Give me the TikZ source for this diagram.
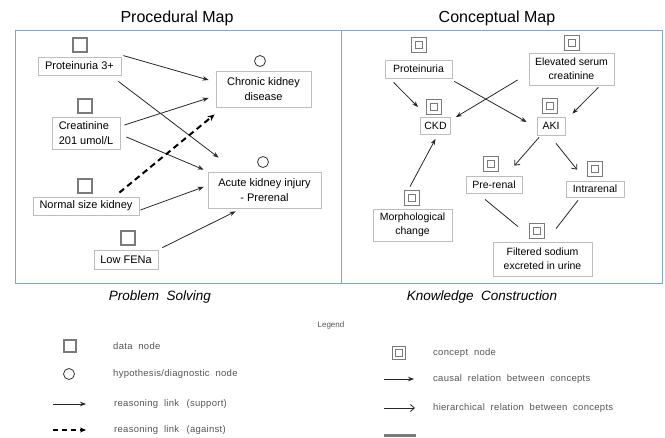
\documentclass[tikz,border=0pt]{standalone}
\usepackage{fontspec}
\setmainfont{Liberation Sans}
\newfontfamily\legfont{Liberation Sans}[LetterSpace=3.0,WordSpace=2.0]
\usetikzlibrary{arrows.meta,calc}
\newcommand{\fsz}[2]{\fontsize{#1}{#2}\selectfont}
\definecolor{panelblue}{HTML}{7FA6D8}
\definecolor{boxgray}{HTML}{BDBDBD}
\definecolor{symgray}{HTML}{7A7A7A}
\definecolor{leggray}{HTML}{555555}
\tikzset{
  panel/.style={draw=panelblue, line width=0.9pt},
  tbox/.style={draw=boxgray, line width=0.8pt, fill=white, inner sep=0pt, align=center, font=\fsz{11}{15}},
  rbox/.style={tbox, font=\fsz{10.5}{14}},
  dsym/.style={draw=symgray, line width=1.3pt, minimum size=14pt, inner sep=0pt},
  hsym/.style={draw=black!80, line width=0.8pt, circle, minimum size=11pt, inner sep=0pt},
  csym/.style={draw=symgray, line width=1.1pt, minimum size=15pt, inner sep=0pt,
    path picture={\draw[symgray, line width=1.1pt] ($(path picture bounding box.center)+(-3.8,-3.8)$) rectangle ($(path picture bounding box.center)+(3.8,3.8)$);}},
  sup/.style={draw=black!85, line width=0.8pt, -{Stealth[length=6pt,width=4.5pt]}},
  agn/.style={draw=black, line width=2pt, dash pattern=on 6pt off 4pt, -{Stealth[length=7pt,width=6pt]}},
  hier/.style={draw=black!85, line width=0.8pt, -{Straight Barb[length=4pt,width=7pt]}},
  plain/.style={draw=black!85, line width=0.8pt},
  title/.style={font=\fsz{16}{19}},
  subt/.style={font=\fsz{13.5}{16}\itshape},
  legtxt/.style={anchor=west, text=leggray, font=\fsz{9.5}{11}\legfont, inner sep=0pt},
}
\begin{document}
\begin{tikzpicture}[x=1pt,y=-1pt]
\useasboundingbox (0,0) rectangle (665,438);
% panels
\draw[panel] (15,30) rectangle (341,283);
\draw[panel] (341,30) rectangle (662,283);
\node[title] (t1) at (177,18) {Procedural Map};
\node[title] (t2) at (497,18) {Conceptual Map};
\node[subt] (s1) at (160,297) {Problem\ \ Solving};
\node[subt] (s2) at (482,297) {Knowledge\ \ Construction};

% ---- left map
\node[tbox, minimum width=83pt, minimum height=18pt] (p3) at (79.5,66) {Proteinuria 3+};
\node[tbox, minimum width=68pt, minimum height=32pt, align=left] (cr) at (86,133) {Creatinine\\201 umol/L};
\node[tbox, minimum width=106pt, minimum height=18pt] (nsk) at (86,206) {Normal size kidney};
\node[tbox, minimum width=64pt, minimum height=19pt] (fena) at (126,259.5) {Low FENa};
\node[tbox, minimum width=95pt, minimum height=36pt] (ckdL) at (263.5,89) {Chronic kidney\\disease};
\node[tbox, minimum width=113pt, minimum height=36pt] (akiL) at (264.5,190) {Acute kidney injury\\- Prerenal};
\node[dsym] (dp3) at (80,45) {};
\node[dsym] (dcr) at (85,106) {};
\node[dsym] (dnsk) at (85,186) {};
\node[dsym] (dfena) at (128,238) {};
\node[hsym] (hckd) at (260,61) {};
\node[hsym] (haki) at (263,162) {};

\draw[sup] ($(p3.north east)+(2,-1)$) -- ($(ckdL.west)+(-7,-9)$);
\draw[sup] ($(p3.south east)+(-3,6)$) -- ($(akiL.north west)+(11,-14)$);
\draw[sup] ($(cr.east)+(4,-8)$) -- ($(ckdL.west)+(-7,9)$);
\draw[sup] ($(cr.east)+(6,4)$) -- ($(akiL.north west)+(-4,-2)$);
\draw[agn] ($(nsk.north east)+(-20,-4)$) -- ($(ckdL.south west)+(-1,7)$);
\draw[sup] ($(nsk.east)+(1,4)$) -- ($(akiL.west)+(-4,-3)$);
\draw[sup] ($(fena.north east)+(4,-2)$) -- ($(akiL.south west)+(28,3)$);

% ---- right map
\node[rbox, minimum width=67pt, minimum height=18pt] (prot) at (418.5,69) {Proteinuria};
\node[rbox, minimum width=85pt, minimum height=32pt] (esc) at (571.5,69) {Elevated serum\\creatinine};
\node[rbox, minimum width=30pt, minimum height=17pt] (ckd) at (435.5,126) {CKD};
\node[rbox, minimum width=28pt, minimum height=18pt] (aki) at (551,126) {AKI};
\node[rbox, minimum width=56pt, minimum height=17pt] (pre) at (494,184.5) {Pre-renal};
\node[rbox, minimum width=58pt, minimum height=16pt] (intra) at (595,189) {Intrarenal};
\node[rbox, minimum width=79pt, minimum height=32pt] (morph) at (412.5,225) {Morphological\\change};
\node[rbox, minimum width=99pt, minimum height=34pt] (filt) at (542.5,259) {Filtered sodium\\excreted in urine};
\node[csym] (cprot) at (419,45) {};
\node[csym] (cesc) at (572,43) {};
\node[csym] (cckd) at (434,107) {};
\node[csym] (caki) at (550,106) {};
\node[csym] (cpre) at (491,164) {};
\node[csym] (cintra) at (595,169) {};
\node[csym] (cmorph) at (412,198) {};
\node[csym] (cfilt) at (537,231) {};

\draw[sup] ($(prot.south west)+(9,4)$) -- ($(ckd.north west)+(-2,-10)$);
\draw[sup] ($(prot.south east)+(2,3)$) -- ($(aki.west)+(-10,-4)$);
\draw[sup] ($(esc.west)+(-11,11)$) -- ($(ckd.north east)+(5,0)$);
\draw[sup] ($(esc.south east)+(-16,2)$) -- ($(aki.north east)+(7,-3)$);
\draw[sup] ($(morph.north)+(-2.5,-22)$) -- ($(ckd.south)+(0,4)$);
\draw[hier] ($(aki.south)+(-12,2)$) -- ($(pre.north east)+(-8,-10)$);
\draw[hier] ($(aki.south)+(5,8)$) -- ($(intra.north)+(-18,-11)$);
\draw[plain] ($(pre.south)+(-9,6)$) -- ($(filt.north)+(-24.5,-15)$);
\draw[plain] ($(intra.south)+(-17,3)$) -- ($(filt.north)+(13.5,-13)$);

% ---- legend
\node[text=leggray, font=\fsz{8}{10}, inner sep=0pt] (leg) at (331,325) {Legend};
\node[dsym, minimum size=12pt] (ld) at (70,346) {};
\node[legtxt] (ldt) at (113,346) {data node};
\node[hsym] (lh) at (69,374) {};
\node[legtxt] (lht) at (113,374) {hypothesis/diagnostic node};
\coordinate (ls1) at (53,404); \coordinate (ls2) at (86,404);
\draw[sup] (ls1) -- (ls2);
\node[legtxt] (lst) at (114,404) {reasoning link \,(support)};
\coordinate (la1) at (53,430); \coordinate (la2) at (86,430);
\draw[agn, line width=1.6pt, dash pattern=on 5pt off 4pt, -{Stealth[length=6pt,width=5pt]}] (la1) -- (la2);
\node[legtxt] (lat) at (114,430) {reasoning link \,(against)};

\node[csym, minimum size=13pt] (lc) at (399,353) {};
\node[legtxt] (lct) at (433,353) {concept node};
\coordinate (lc1) at (384,379); \coordinate (lc2) at (414,379);
\draw[sup] (lc1) -- (lc2);
\node[legtxt] (lcat) at (433,379) {causal relation between concepts};
\coordinate (lh1) at (384,408); \coordinate (lh2) at (415,408);
\draw[hier] (lh1) -- (lh2);
\node[legtxt] (lhit) at (433,408) {hierarchical relation between concepts};
\coordinate (ll1) at (384,435.5); \coordinate (ll2) at (416,435.5);
\draw[symgray, line width=2.5pt] (ll1) -- (ll2);
\end{tikzpicture}
\end{document}
